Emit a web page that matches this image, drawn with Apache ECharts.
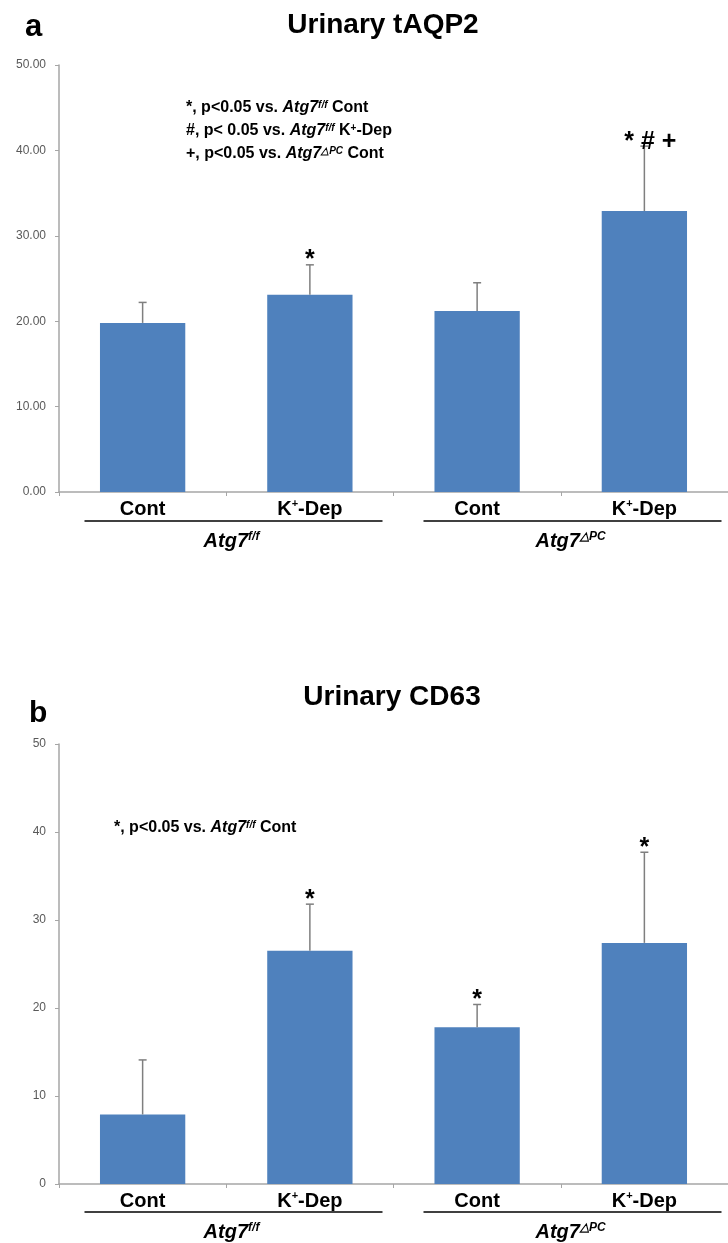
<!DOCTYPE html>
<html><head><meta charset="utf-8">
<script src="https://cdn.jsdelivr.net/npm/echarts@6/dist/echarts.min.js"></script>
<style>html,body{margin:0;padding:0;background:#fff}#c{width:728px;height:1243px}</style>
</head><body><div id="c"></div>
<script>
const categories = ['Cont', 'K+-Dep', 'Cont', 'K+-Dep'];
const groupNames = ['f/f', '\u25B3PC'];
const aqp2Mean = [19.8, 23.1, 21.2, 32.9];
const aqp2Err = [2.4, 3.5, 3.3, 7.6];
const aqp2Marks = ['', '*', '', '* # +'];
const cd63Mean = [7.9, 26.5, 17.8, 27.4];
const cd63Err = [6.2, 5.3, 2.6, 10.3];
const cd63Marks = ['', '*', '*', '*'];

const FONT = '"Liberation Sans", Arial, sans-serif';
const BLUE = '#4F81BD';
const GRID_LEFT = 59, GRID_RIGHT = -9;
const gridA = {top: 65, bottom: 751};
const gridB = {top: 744, bottom: 59};

function catLabel(v) {
  if (v === 'K+-Dep') return '{b|K}{s|+}{b|-Dep}';
  return '{b|' + v + '}';
}
const axisRich = {
  b: {fontFamily: FONT, fontWeight: 'bold', fontSize: 20, color: '#000', lineHeight: 22},
  s: {fontFamily: FONT, fontWeight: 'bold', fontSize: 11, color: '#000', verticalAlign: 'top', lineHeight: 14}
};

function xAxisCfg(gi) {
  return {
    type: 'category', gridIndex: gi, data: categories,
    axisLine: {lineStyle: {color: '#A6A6A6', width: 1.5}},
    axisTick: {show: true, length: 4, lineStyle: {color: '#A6A6A6'}},
    axisLabel: {margin: 6, formatter: catLabel, rich: axisRich}
  };
}
function yAxisCfg(gi, fmt, fs) {
  return {
    type: 'value', gridIndex: gi, min: 0, max: 50, interval: 10,
    splitLine: {show: false},
    axisLine: {show: true, lineStyle: {color: '#A6A6A6', width: 1.5}},
    axisTick: {show: true, length: 4, lineStyle: {color: '#A6A6A6'}},
    axisLabel: {color: '#595959', fontFamily: FONT, fontSize: fs, margin: 13, formatter: fmt}
  };
}

function errSeries(ai, means, errs, marks) {
  return {
    type: 'custom', xAxisIndex: ai, yAxisIndex: ai, z: 5,
    data: means.map((m, i) => [i, m, errs[i]]),
    renderItem: function (params, api) {
      const i = api.value(0), m = api.value(1), e = api.value(2);
      const p0 = api.coord([i, m]);
      const p1 = api.coord([i, m + e]);
      const children = [
        {type: 'line', shape: {x1: p0[0], y1: p0[1], x2: p1[0], y2: p1[1]}, style: {stroke: '#7F7F7F', lineWidth: 1.5}},
        {type: 'line', shape: {x1: p1[0] - 4, y1: p1[1], x2: p1[0] + 4, y2: p1[1]}, style: {stroke: '#7F7F7F', lineWidth: 1.5}}
      ];
      const mk = marks[params.dataIndex];
      if (mk) {
        children.push({type: 'text', style: {text: mk, x: p1[0] + (mk.length > 1 ? 6 : 0), y: p1[1] + 8, align: 'center', verticalAlign: 'bottom',
          font: 'bold 25px ' + FONT, fill: '#000'}});
      }
      return {type: 'group', children: children};
    }
  };
}

function catCenter(i) {
  const w = 728 - GRID_LEFT - GRID_RIGHT;
  return GRID_LEFT + (i + 0.5) * w / 4;
}

const italicRich = {
  t: {fontFamily: FONT, fontWeight: 'bold', fontSize: 16, color: '#000'},
  i: {fontFamily: FONT, fontWeight: 'bold', fontStyle: 'italic', fontSize: 16, color: '#000'},
  si: {fontFamily: FONT, fontWeight: 'bold', fontStyle: 'italic', fontSize: 10, color: '#000', verticalAlign: 'top', lineHeight: 12},
  s: {fontFamily: FONT, fontWeight: 'bold', fontSize: 10, color: '#000', verticalAlign: 'top', lineHeight: 12}
};
const groupRich = {
  i: {fontFamily: FONT, fontWeight: 'bold', fontStyle: 'italic', fontSize: 20, color: '#000'},
  si: {fontFamily: FONT, fontWeight: 'bold', fontStyle: 'italic', fontSize: 12, color: '#000', verticalAlign: 'top', lineHeight: 12}
};

function groupGraphics(lineY, labelY) {
  const out = [];
  const segs = [[0, 1], [2, 3]];
  segs.forEach((s, gi) => {
    const mid = (catCenter(s[0]) + catCenter(s[1])) / 2;
    const half = 149;
    out.push({type: 'line', shape: {x1: mid + 5 - half, y1: lineY, x2: mid + 5 + half, y2: lineY}, style: {stroke: '#000', lineWidth: 1.5}});
    out.push({type: 'text', x: mid + 3, y: labelY, style: {text: '{i|Atg7}{si|' + groupNames[gi] + '}', rich: groupRich, align: 'center', verticalAlign: 'middle'}});
  });
  return out;
}

const graphics = [
  {type: 'text', x: 25, y: 27, style: {text: 'a', font: 'bold 31px ' + FONT, fill: '#000', verticalAlign: 'middle'}},
  {type: 'text', x: 383, y: 25, style: {text: 'Urinary tAQP2', font: 'bold 28px ' + FONT, fill: '#000', align: 'center', verticalAlign: 'middle'}},
  {type: 'text', x: 186, y: 108, style: {text: '{t|*, p<0.05 vs. }{i|Atg7}{si|f/f}{t| Cont}', rich: italicRich, verticalAlign: 'middle'}},
  {type: 'text', x: 186, y: 131, style: {text: '{t|#, p< 0.05 vs. }{i|Atg7}{si|f/f}{t| K}{s|+}{t|-Dep}', rich: italicRich, verticalAlign: 'middle'}},
  {type: 'text', x: 186, y: 154, style: {text: '{t|+, p<0.05 vs. }{i|Atg7}{si|\u25B3PC}{t| Cont}', rich: italicRich, verticalAlign: 'middle'}},
  {type: 'text', x: 29, y: 714, style: {text: 'b', font: 'bold 30px ' + FONT, fill: '#000', verticalAlign: 'middle'}},
  {type: 'text', x: 392, y: 697, style: {text: 'Urinary CD63', font: 'bold 28px ' + FONT, fill: '#000', align: 'center', verticalAlign: 'middle'}},
  {type: 'text', x: 114, y: 828, style: {text: '{t|*, p<0.05 vs. }{i|Atg7}{si|f/f}{t| Cont}', rich: italicRich, verticalAlign: 'middle'}}
].concat(groupGraphics(521, 541), groupGraphics(1212, 1232));

const chart = echarts.init(document.getElementById('c'), null, {renderer: 'canvas'});
chart.setOption({
  animation: false,
  backgroundColor: '#fff',
  grid: [
    {left: GRID_LEFT, right: GRID_RIGHT, top: gridA.top, bottom: gridA.bottom},
    {left: GRID_LEFT, right: GRID_RIGHT, top: gridB.top, bottom: gridB.bottom}
  ],
  xAxis: [xAxisCfg(0), xAxisCfg(1)],
  yAxis: [yAxisCfg(0, v => v.toFixed(2), 12), yAxisCfg(1, v => String(v), 12)],
  series: [
    {type: 'bar', xAxisIndex: 0, yAxisIndex: 0, data: aqp2Mean, barWidth: '51%', itemStyle: {color: BLUE}},
    errSeries(0, aqp2Mean, aqp2Err, aqp2Marks),
    {type: 'bar', xAxisIndex: 1, yAxisIndex: 1, data: cd63Mean, barWidth: '51%', itemStyle: {color: BLUE}},
    errSeries(1, cd63Mean, cd63Err, cd63Marks)
  ],
  graphic: graphics
});
</script></body></html>
